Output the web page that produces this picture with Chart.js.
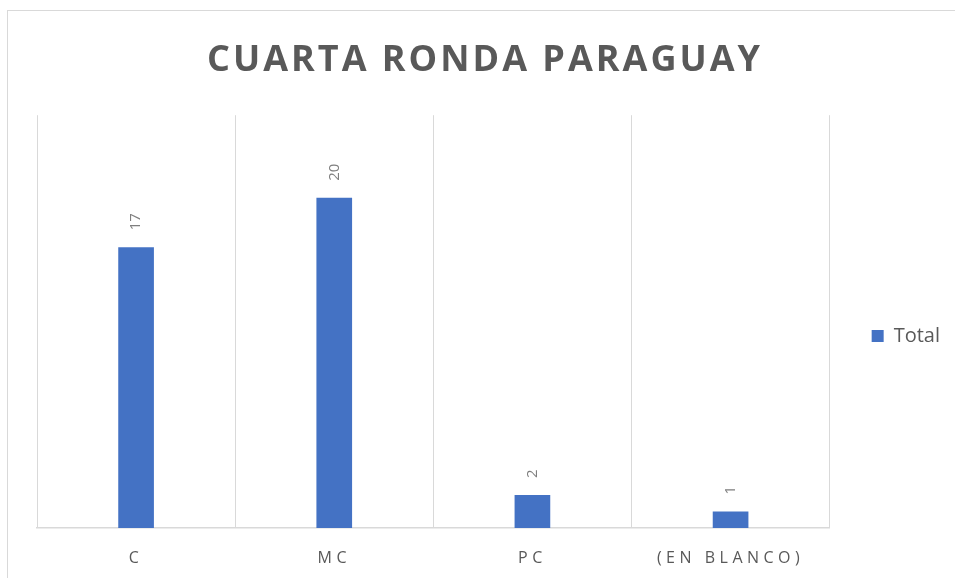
<!DOCTYPE html>
<html>
<head>
<meta charset="utf-8">
<script src="https://cdn.jsdelivr.net/npm/chart.js@4.4.1/dist/chart.umd.min.js"></script>
<style>
html,body{margin:0;padding:0;background:#fff;overflow:hidden;}
#frame{position:absolute;left:7px;top:10px;width:1000px;height:1000px;border:1px solid #d9d9d9;}
#wrap{position:absolute;left:0;top:0;width:955px;height:578px;}
</style>
</head>
<body>
<div id="frame"></div>
<div id="wrap"><canvas id="chart" width="955" height="578"></canvas></div>
<script>
// --- Data ---
const categories = ["C", "MC", "PC", "(EN BLANCO)"];
const totals = [17, 20, 2, 1];
const seriesName = "Total";
const titleText = "CUARTA RONDA PARAGUAY";
const yMax = 25;

const textGray = "#595959";
const gridGray = "#d9d9d9";
const barBlue = "#4472C4";

// --- Rotated value labels over bars ---
const barLabels = {
  id: "barLabels",
  afterDatasetsDraw(chart){
    const ctx = chart.ctx, meta = chart.getDatasetMeta(0);
    ctx.save();
    ctx.letterSpacing = "0px";
    ctx.font = '15px "Open Sans"';
    ctx.fillStyle = "#7f7f7f";
    ctx.textAlign = "left";
    ctx.textBaseline = "middle";
    meta.data.forEach((bar, i)=>{
      ctx.save();
      ctx.translate(bar.x, bar.y - 17);
      ctx.rotate(-Math.PI/2);
      ctx.fillText(String(totals[i]), 0, 0);
      ctx.restore();
    });
    ctx.restore();
  }
};

const hiddenAxis = w => ({
  grid: {display: false}, border: {display: false}, ticks: {display: false},
  afterFit(s){ s.width = w; }
});

const chart = new Chart(document.getElementById("chart"), {
  type: "bar",
  data: {
    labels: categories,
    datasets: [{label: seriesName, data: totals, backgroundColor: barBlue, barPercentage: 0.18, categoryPercentage: 1}]
  },
  options: {
    responsive: false,
    animation: false,
    layout: {padding: {left: 20, right: 5, top: 14, bottom: 12}},
    plugins: {
      title: {display: true, text: titleText, color: textGray,
        font: {family: "Open Sans", size: 36, weight: "bold"}, padding: {top: 25, bottom: 33}},
      legend: {position: "right",
        title: {display: true, text: "", font: {size: 10}, padding: {top: 0, bottom: 80}},
        labels: {boxWidth: 12, boxHeight: 12, padding: 10, color: textGray, font: {family: "Open Sans", size: 20}}},
      tooltip: {enabled: false}
    },
    scales: {
      x: {
        grid: {offset: true, color: gridGray, drawTicks: false},
        border: {color: gridGray, width: 1.5},
        ticks: {color: textGray, padding: 21, font: {family: "Open Sans", size: 16}},
        afterFit(s){ s.height = 38; }
      },
      y: Object.assign({position: "left", min: 0, max: yMax}, hiddenAxis(17)),
      y2: Object.assign({position: "right", min: 0, max: yMax}, hiddenAxis(32))
    }
  },
  plugins: [barLabels]
});

// --- letter spacing for title and category labels ---
const tb = chart.titleBlock, tDraw = tb.draw.bind(tb);
tb.draw = function(a){ chart.ctx.letterSpacing = "3px"; tDraw(a); chart.ctx.letterSpacing = "0px"; };
const xs = chart.scales.x, xDraw = xs.drawLabels.bind(xs);
xs.drawLabels = function(a){ chart.ctx.letterSpacing = "4.5px"; xDraw(a); chart.ctx.letterSpacing = "0px"; };
chart.draw();
</script>
</body>
</html>
